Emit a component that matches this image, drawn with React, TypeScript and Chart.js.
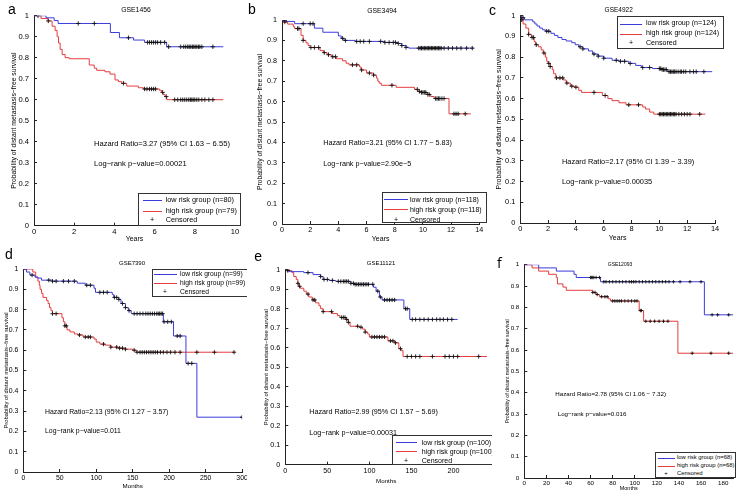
import React, { useEffect, useRef } from "react";
import { Chart, registerables } from "chart.js";
Chart.register(...registerables);

const FONT = "'Liberation Sans', Arial, Helvetica, sans-serif";
Chart.defaults.font.family = FONT;
const BLUE = "#3c3cdc";
const RED = "#e63c3c";

// ---------- Panel a (GSE1456), years ----------
const aLowT = [0, 0.6, 1.0, 1.2, 3.8, 4.25, 4.95, 5.5, 6.6, 9.42];
const aLowS = [1, 0.99, 0.977, 0.963, 0.92, 0.895, 0.884, 0.873, 0.852, 0.852];
const aLowC = [0.2, 2.2, 3.0, 4.7, 5.65, 5.75, 5.85, 5.95, 6.05, 6.15, 6.3, 6.5, 6.7, 7.3, 7.45, 7.55, 7.65, 7.72, 7.8, 7.88, 7.95, 8.02, 8.1, 8.18, 8.25, 8.35, 8.9];
const aHighT = [0, 0.35, 0.7, 0.9, 1.05, 1.15, 1.22, 1.3, 1.4, 1.55, 1.75, 2.75, 3.0, 3.12, 3.53, 3.78, 4.03, 4.2, 4.36, 4.61, 5.19, 5.44, 6.24, 6.35, 6.43, 6.52, 6.6, 9.42];
const aHighS = [1, 0.987, 0.975, 0.95, 0.93, 0.9, 0.87, 0.84, 0.815, 0.8, 0.795, 0.765, 0.75, 0.74, 0.733, 0.722, 0.694, 0.686, 0.678, 0.665, 0.657, 0.651, 0.645, 0.635, 0.625, 0.615, 0.6, 0.6];
const aHighC = [0.71, 4.45, 5.5, 5.62, 5.75, 5.85, 5.95, 6.05, 6.4, 6.58, 7.0, 7.15, 7.3, 7.4, 7.5, 7.6, 7.7, 7.78, 7.85, 7.92, 8.0, 8.1, 8.2, 8.35, 8.5, 8.7, 8.9];

// ---------- Panel b (GSE3494), years ----------
const bLowT = [0, 0.3, 0.9, 2.3, 2.9, 4.0, 4.2, 4.4, 5.2, 7.3, 8.2, 8.5, 8.8, 9.0, 13.6];
const bLowS = [1, 0.993, 0.982, 0.96, 0.94, 0.922, 0.91, 0.9, 0.895, 0.89, 0.885, 0.875, 0.866, 0.862, 0.862];
const bLowC = [0.2, 1.5, 2.0, 2.2, 4.3, 4.5, 5.3, 5.55, 5.8, 6.2, 7.0, 7.3, 7.6, 7.9, 8.05, 8.25, 8.5, 8.8, 9.7, 9.8, 9.9, 10.0, 10.1, 10.2, 10.3, 10.4, 10.5, 10.6, 10.7, 10.8, 10.9, 11.0, 11.1, 11.2, 11.3, 11.5, 11.8, 12.1, 12.4, 12.7, 13.1, 13.5];
const bHighT = [0, 0.1, 0.4, 0.8, 0.9, 1.35, 1.5, 1.7, 1.85, 2.0, 2.7, 2.95, 3.2, 3.5, 3.85, 4.3, 4.55, 4.75, 5.5, 5.6, 6.0, 6.5, 6.7, 6.8, 6.9, 7.05, 8.1, 9.4, 9.65, 9.9, 10.3, 10.55, 10.8, 11.85, 13.4];
const bHighS = [1, 0.99, 0.98, 0.967, 0.958, 0.925, 0.9, 0.888, 0.875, 0.865, 0.85, 0.84, 0.83, 0.82, 0.81, 0.8, 0.788, 0.78, 0.77, 0.755, 0.74, 0.73, 0.715, 0.7, 0.69, 0.68, 0.67, 0.66, 0.65, 0.645, 0.635, 0.625, 0.615, 0.54, 0.54];
const bHighC = [0.2, 1.1, 1.2, 1.5, 2.05, 2.3, 2.6, 3.0, 3.3, 3.6, 3.8, 5.0, 5.3, 5.65, 6.2, 6.5, 7.8, 9.6, 9.75, 9.9, 10.0, 10.1, 10.2, 10.35, 10.45, 10.9, 11.0, 11.1, 11.2, 11.35, 11.5, 12.2, 12.35, 12.5, 13.0];

// ---------- Panel c (GSE4922), years ----------
const cLowT = [0, 0.1, 0.3, 0.9, 1.05, 1.2, 1.4, 1.6, 1.8, 2.2, 2.45, 2.7, 3.0, 3.3, 3.7, 3.95, 4.2, 4.5, 4.9, 5.2, 5.6, 6.0, 6.6, 7.1, 7.8, 8.3, 8.7, 9.5, 10.2, 10.6, 13.8];
const cLowS = [1, 0.99, 0.98, 0.97, 0.96, 0.95, 0.94, 0.932, 0.925, 0.915, 0.905, 0.895, 0.885, 0.878, 0.87, 0.86, 0.85, 0.84, 0.83, 0.815, 0.805, 0.795, 0.785, 0.78, 0.77, 0.76, 0.75, 0.745, 0.74, 0.73, 0.73];
const cLowC = [0.2, 1.9, 2.05, 4.3, 4.5, 5.3, 5.6, 6.0, 6.9, 7.2, 7.5, 7.9, 8.8, 9.3, 10.0, 10.1, 10.2, 10.3, 10.4, 10.5, 10.7, 10.8, 10.9, 11.0, 11.1, 11.2, 11.35, 11.5, 11.6, 11.75, 11.9, 12.2, 12.45, 12.65, 13.2];
const cHighT = [0, 0.1, 0.2, 0.4, 0.6, 0.8, 1.0, 1.1, 1.3, 1.5, 1.65, 1.8, 1.9, 2.0, 2.15, 2.3, 2.4, 2.55, 3.1, 3.3, 3.6, 3.9, 4.2, 4.4, 5.9, 6.3, 6.6, 7.1, 7.6, 8.8, 9.0, 9.3, 9.6, 13.3];
const cHighS = [1, 0.98, 0.96, 0.94, 0.91, 0.895, 0.875, 0.86, 0.85, 0.835, 0.82, 0.8, 0.78, 0.77, 0.755, 0.74, 0.72, 0.7, 0.69, 0.675, 0.66, 0.655, 0.64, 0.63, 0.615, 0.6, 0.59, 0.58, 0.57, 0.56, 0.55, 0.535, 0.525, 0.525];
const cHighC = [0.1, 0.6, 0.85, 0.95, 1.15, 1.7, 2.05, 2.15, 2.6, 2.85, 3.05, 3.35, 3.7, 4.0, 5.3, 6.1, 7.8, 8.5, 10.0, 10.1, 10.2, 10.3, 10.4, 10.5, 10.6, 10.7, 10.8, 10.9, 11.0, 11.1, 11.2, 11.4, 11.6, 11.8, 12.0, 12.2, 12.9];

// ---------- Panel d (GSE7390), months ----------
const dLowT = [0, 4.5, 9, 16, 20, 25, 40, 74, 85, 97, 99, 122, 124, 131, 134, 140, 144, 148, 192, 206, 223, 238, 300];
const dLowS = [1, 0.985, 0.97, 0.96, 0.955, 0.945, 0.94, 0.93, 0.92, 0.905, 0.885, 0.875, 0.86, 0.85, 0.83, 0.81, 0.795, 0.78, 0.74, 0.67, 0.535, 0.27, 0.27];
const dLowC = [12, 35, 40, 45, 55, 62, 70, 87, 92, 105, 110, 115, 125, 128, 131, 136, 140, 145, 152, 156, 160, 164, 168, 171, 174, 177, 180, 183, 185, 187, 189, 191, 193, 198, 203, 211, 215, 226, 231, 300];
const dHighT = [0, 13, 17, 20, 22, 23, 25, 27, 32, 34, 36, 38, 40, 53, 55, 57, 60, 64, 70, 75, 82, 97, 100, 105, 112, 120, 130, 140, 150, 155, 289];
const dHighS = [1, 0.985, 0.96, 0.94, 0.92, 0.9, 0.88, 0.86, 0.845, 0.83, 0.81, 0.795, 0.78, 0.76, 0.74, 0.72, 0.7, 0.69, 0.68, 0.675, 0.665, 0.655, 0.64, 0.63, 0.625, 0.615, 0.61, 0.605, 0.6, 0.59, 0.59];
const dHighC = [40, 45, 57, 59, 77, 85, 89, 92, 110, 120, 128, 132, 136, 140, 152, 156, 160, 163, 166, 169, 172, 175, 178, 181, 184, 188, 192, 197, 202, 208, 215, 238, 262, 289];

// ---------- Panel e (GSE11121), months ----------
const eLowT = [0, 5, 22, 33, 42, 45, 52, 60, 78, 82, 105, 108, 112, 115, 141, 148, 205];
const eLowS = [1, 0.99, 0.985, 0.975, 0.965, 0.95, 0.945, 0.94, 0.93, 0.925, 0.91, 0.89, 0.86, 0.845, 0.8, 0.745, 0.745];
const eLowC = [3, 27, 42, 46, 50, 56, 63, 66, 69, 71, 73, 75, 78, 81, 83, 85, 87, 89, 91, 93, 95, 97, 99, 104, 110, 113, 118, 121, 124, 127, 130, 143, 145, 151, 155, 160, 165, 170, 175, 180, 184, 188, 193, 198];
const eHighT = [0, 3, 8, 10, 13, 15, 16, 18, 22, 25, 28, 32, 36, 40, 42, 45, 56, 62, 65, 72, 75, 77, 88, 92, 95, 98, 100, 122, 130, 135, 138, 140, 240];
const eHighS = [1, 0.995, 0.985, 0.965, 0.95, 0.93, 0.915, 0.905, 0.89, 0.875, 0.86, 0.845, 0.83, 0.815, 0.8, 0.785, 0.775, 0.765, 0.755, 0.745, 0.73, 0.71, 0.705, 0.695, 0.68, 0.67, 0.655, 0.635, 0.625, 0.595, 0.585, 0.555, 0.555];
const eHighC = [3, 15, 17, 27, 33, 35, 45, 55, 67, 69, 71, 73, 75, 86, 90, 95, 103, 106, 109, 112, 115, 118, 125, 128, 131, 137, 145, 150, 155, 160, 175, 190, 195, 200, 205, 230];

// ---------- Panel f (GSE12093), months ----------
const fLowT = [0, 13, 29, 45, 47, 69, 163, 189];
const fLowS = [1, 0.985, 0.97, 0.955, 0.94, 0.92, 0.765, 0.765];
const fLowC = [60, 61, 62, 63, 65, 68, 72, 74, 77, 80, 83, 86, 89, 92, 95, 97, 99, 101, 104, 107, 110, 113, 116, 119, 122, 125, 128, 131, 135, 141, 150, 160, 170, 175, 185];
const fHighT = [0, 7, 13, 22, 29, 30, 35, 38, 62, 65, 68, 76, 78, 104, 108, 139, 189];
const fHighS = [1, 0.985, 0.97, 0.955, 0.94, 0.91, 0.895, 0.88, 0.87, 0.86, 0.85, 0.84, 0.83, 0.785, 0.735, 0.585, 0.585];
const fHighC = [62, 64, 66, 70, 73, 75, 80, 82, 84, 86, 88, 91, 94, 97, 100, 102, 105, 106, 110, 114, 118, 122, 126, 130, 152, 169, 185];

const TITLES = ["GSE1456", "GSE3494", "GSE4922", "GSE7390", "GSE11121", "GSE12093"];
const LETTERS = ["a", "b", "c", "d", "e", "f"];
const HR_TEXT = [
  "Hazard Ratio=3.27 (95% CI 1.63 \u2212 6.55)",
  "Hazard Ratio=3.21 (95% CI 1.77 \u2212 5.83)",
  "Hazard Ratio=2.17 (95% CI 1.39 \u2212 3.39)",
  "Hazard Ratio=2.13 (95% CI 1.27 \u2212 3.57)",
  "Hazard Ratio=2.99 (95% CI 1.57 \u2212 5.69)",
  "Hazard Ratio=2.78 (95% CI 1.06 \u2212 7.32)",
];
const P_TEXT = [
  "Log\u2212rank p\u2212value=0.00021",
  "Log\u2212rank p\u2212value=2.90e\u22125",
  "Log\u2212rank p\u2212value=0.00035",
  "Log\u2212rank p\u2212value=0.011",
  "Log\u2212rank p\u2212value=0.00031",
  "Log\u2212rank p\u2212value=0.016",
];
const N_LOW = [80, 118, 124, 99, 100, 68];
const N_HIGH = [79, 118, 124, 99, 100, 68];
const X_LABELS = ["Years", "Years", "Years", "Months", "Months", "Months"];
const Y_LABEL = "Probability of distant metastasis\u2212free survival";

function stepAt(T: number[], S: number[], t: number) {
  let v = S[0];
  for (let i = 0; i < T.length; i++) if (T[i] <= t) v = S[i];
  return v;
}

type Layout = {
  box: { x: number; y: number; w: number; h: number };
  plot: { L: number; T: number; R: number; B: number };
  xMax: number; xStep: number;
  fs: number; lfs: number; yfs: number; xfs: number; tfs: number;
  yTitleX: number; xTitleY: number;
  title: { x: number; y: number };
  letter: { x: number; y: number; size: number; family?: string };
  hr: { x: number; y: number }; pv: { x: number; y: number };
  legend: { x: number; y: number; w: number; h: number; rows: number[]; l1: number; l2: number; tx: number; px: number };
  cross: number;
};

const DATA = [
  { lowT: aLowT, lowS: aLowS, lowC: aLowC, highT: aHighT, highS: aHighS, highC: aHighC },
  { lowT: bLowT, lowS: bLowS, lowC: bLowC, highT: bHighT, highS: bHighS, highC: bHighC },
  { lowT: cLowT, lowS: cLowS, lowC: cLowC, highT: cHighT, highS: cHighS, highC: cHighC },
  { lowT: dLowT, lowS: dLowS, lowC: dLowC, highT: dHighT, highS: dHighS, highC: dHighC },
  { lowT: eLowT, lowS: eLowS, lowC: eLowC, highT: eHighT, highS: eHighS, highC: eHighC },
  { lowT: fLowT, lowS: fLowS, lowC: fLowC, highT: fHighT, highS: fHighS, highC: fHighC },
];

const LAYOUTS: Layout[] = [
  {
    box: { x: 0, y: 0, w: 246, h: 248 }, plot: { L: 34, T: 15.7, R: 235, B: 225.7 },
    xMax: 10, xStep: 2, fs: 7.6, lfs: 7.3, yfs: 6.8, xfs: 7, tfs: 6.8, yTitleX: 14, xTitleY: 239.3,
    title: { x: 136, y: 10 }, letter: { x: 8, y: 9, size: 14 },
    hr: { x: 94, y: 144 }, pv: { x: 94, y: 164 },
    legend: { x: 138, y: 193, w: 103, h: 33, rows: [200, 210.7, 220], l1: 142.7, l2: 161.7, tx: 165.7, px: 152 },
    cross: 2.2,
  },
  {
    box: { x: 246, y: 0, w: 246, h: 248 }, plot: { L: 282, T: 20, R: 479.3, B: 224 },
    xMax: 14, xStep: 2, fs: 7.2, lfs: 7, yfs: 6.8, xfs: 7, tfs: 6.8, yTitleX: 260, xTitleY: 239,
    title: { x: 382, y: 11 }, letter: { x: 248, y: 9, size: 14 },
    hr: { x: 323.3, y: 143.3 }, pv: { x: 323.3, y: 164 },
    legend: { x: 382, y: 192, w: 105, h: 31, rows: [199.3, 209.3, 219], l1: 384.3, l2: 407.7, tx: 410, px: 396 },
    cross: 2.2,
  },
  {
    box: { x: 492, y: 0, w: 246, h: 248 }, plot: { L: 520.3, T: 15.7, R: 715, B: 223 },
    xMax: 14, xStep: 2, fs: 7.4, lfs: 7.1, yfs: 7, xfs: 7, tfs: 6.5, yTitleX: 499.3, xTitleY: 238.3,
    title: { x: 618.7, y: 10 }, letter: { x: 489, y: 10, size: 14 },
    hr: { x: 562, y: 162 }, pv: { x: 562, y: 182.3 },
    legend: { x: 617, y: 15.7, w: 107, h: 33.6, rows: [24, 34.3, 44], l1: 619.7, l2: 642, tx: 646, px: 631 },
    cross: 2.2,
  },
  {
    box: { x: 0, y: 248, w: 247, h: 248 }, plot: { L: 23.3, T: 269, R: 245.3, B: 472 },
    xMax: 300, xStep: 50, fs: 6.9, lfs: 6.7, yfs: 5.8, xfs: 6.2, tfs: 6, yTitleX: 6.7, xTitleY: 486,
    title: { x: 132, y: 263 }, letter: { x: 5, y: 254, size: 14 },
    hr: { x: 45, y: 412 }, pv: { x: 45, y: 431.3 },
    legend: { x: 151.7, y: 269, w: 98, h: 28.3, rows: [273.5, 282.7, 292], l1: 154.3, l2: 176.7, tx: 180, px: 165 },
    cross: 2.1,
  },
  {
    box: { x: 246, y: 248, w: 246, h: 248 }, plot: { L: 285.3, T: 269.7, R: 491, B: 464.7 },
    xMax: 240, xStep: 50, fs: 7.2, lfs: 7, yfs: 5.8, xfs: 6.2, tfs: 6, yTitleX: 266.7, xTitleY: 481,
    title: { x: 381, y: 263 }, letter: { x: 254.3, y: 256, size: 14 },
    hr: { x: 309.3, y: 412 }, pv: { x: 309.3, y: 433 },
    legend: { x: 392, y: 435, w: 104, h: 29.7, rows: [441.7, 450.7, 460], l1: 396, l2: 416.7, tx: 421.7, px: 406 },
    cross: 2.1,
  },
  {
    box: { x: 492, y: 248, w: 246, h: 248 }, plot: { L: 524.3, T: 264.7, R: 737, B: 478 },
    xMax: 189, xStep: 20, fs: 6.2, lfs: 5.9, yfs: 5.2, xfs: 5.5, tfs: 5, yTitleX: 507.7, xTitleY: 488,
    title: { x: 620, y: 263.7 }, letter: { x: 497, y: 263, size: 14, family: "'Open Sans', 'Liberation Sans', sans-serif" },
    hr: { x: 555.3, y: 393.7 }, pv: { x: 557.7, y: 413.7 },
    legend: { x: 655.3, y: 452, w: 81, h: 26, rows: [458.3, 466.3, 473.5], l1: 658, l2: 674.7, tx: 677, px: 666 },
    cross: 1.7,
  },
];

function Panel({ idx }: { idx: number }) {
  const ref = useRef<HTMLCanvasElement | null>(null);
  const L = LAYOUTS[idx];
  const D = DATA[idx];
  useEffect(() => {
    if (!ref.current) return;
    const { box, plot } = L;
    const yW = plot.L - box.x;
    const padTop = plot.T - box.y;
    const padRight = box.x + box.w - plot.R;
    const xH = box.y + box.h - plot.B;
    const yTitlePad = L.yTitleX - box.x - (L.yfs * 1.2) / 2;
    const xTitlePad = box.y + box.h - L.xTitleY - (L.xfs * 1.2) / 2;
    const pts = (T: number[], S: number[]) => T.map((t, i) => ({ x: t, y: S[i] }));
    const cens = (T: number[], S: number[], C: number[]) => C.map((t) => ({ x: t, y: stepAt(T, S, t) }));
    const lineDs = (data: any, color: string) => ({
      data, borderColor: color, borderWidth: 1, stepped: "before" as const, pointRadius: 0, fill: false, order: 1,
    });
    const censDs = (data: any) => ({
      data, showLine: false, pointStyle: "cross" as const, pointRadius: L.cross, pointBorderColor: "#111",
      pointBorderWidth: 0.9, borderColor: "#111", order: 0,
    });
    const tickFont = { size: L.fs, family: FONT };
    const chart = new Chart(ref.current, {
      type: "line",
      data: {
        datasets: [
          lineDs(pts(D.lowT, D.lowS), BLUE),
          lineDs(pts(D.highT, D.highS), RED),
          censDs(cens(D.lowT, D.lowS, D.lowC)),
          censDs(cens(D.highT, D.highS, D.highC)),
        ] as any,
      },
      options: {
        animation: false,
        responsive: false,
        events: [],
        layout: { padding: { top: padTop, right: padRight, left: 0, bottom: 0 } },
        plugins: { legend: { display: false }, tooltip: { enabled: false } },
        scales: {
          x: {
            type: "linear", min: 0, max: L.xMax,
            ticks: { stepSize: L.xStep, includeBounds: false, font: tickFont, color: "#000", padding: 5, maxRotation: 0, autoSkip: false },
            grid: { drawOnChartArea: false, tickLength: -3, color: "#222" },
            border: { color: "#222", width: 1 },
            title: { display: true, text: X_LABELS[idx], color: "#000", font: { size: L.xfs, family: FONT }, padding: { top: 0, bottom: xTitlePad } },
            afterFit: (s: any) => { s.height = xH; s.paddingLeft = 0; s.paddingRight = 0; },
          },
          y: {
            type: "linear", min: 0, max: 1,
            ticks: {
              stepSize: 0.1, font: tickFont, color: "#000", padding: 8, autoSkip: false,
              callback: (v: any) => String(Math.round(Number(v) * 10) / 10),
            },
            grid: { drawOnChartArea: false, tickLength: -3, color: "#222" },
            border: { color: "#222", width: 1 },
            title: { display: true, text: Y_LABEL, color: "#000", font: { size: L.yfs, family: FONT }, padding: { top: yTitlePad, bottom: 0 } },
            afterFit: (s: any) => { s.width = yW; s.paddingTop = 0; s.paddingBottom = 0; },
          },
        },
      } as any,
    });
    return () => chart.destroy();
  }, []);

  const { box, legend } = L;
  const lx = (x: number) => x - box.x;
  const ly = (y: number) => y - box.y;
  const txt = (s: string, x: number, y: number, size: number, center = false) => (
    <div
      style={{
        position: "absolute", left: x, top: y, fontSize: size, lineHeight: 1, whiteSpace: "nowrap",
        transform: center ? "translate(-50%, -50%)" : "translateY(-50%)", color: "#000",
      }}
    >
      {s}
    </div>
  );
  const lg = legend;
  return (
    <div style={{ position: "absolute", left: box.x, top: box.y, width: box.w, height: box.h, overflow: "hidden" }}>
      <canvas ref={ref} width={box.w} height={box.h} style={{ position: "absolute", left: 0, top: 0, width: box.w, height: box.h }} />
      {txt(TITLES[idx], lx(L.title.x), ly(L.title.y), L.tfs, true)}
      {txt(HR_TEXT[idx], lx(L.hr.x), ly(L.hr.y), L.fs)}
      {txt(P_TEXT[idx], lx(L.pv.x), ly(L.pv.y), L.fs)}
      <div
        style={{
          position: "absolute", left: lx(lg.x), top: ly(lg.y), width: lg.w, height: lg.h,
          border: "1px solid #333", background: "#fff", boxSizing: "border-box",
        }}
      />
      <div style={{ position: "absolute", left: lx(lg.l1), top: ly(lg.rows[0]), width: lg.l2 - lg.l1, borderTop: `1px solid ${BLUE}` }} />
      <div style={{ position: "absolute", left: lx(lg.l1), top: ly(lg.rows[1]), width: lg.l2 - lg.l1, borderTop: `1px solid ${RED}` }} />
      {txt("+", lx(lg.px) - L.lfs * 0.29, ly(lg.rows[2]), L.lfs)}
      {txt(`low risk group (n=${N_LOW[idx]})`, lx(lg.tx), ly(lg.rows[0]), L.lfs)}
      {txt(`high risk group (n=${N_HIGH[idx]})`, lx(lg.tx), ly(lg.rows[1]), L.lfs)}
      {txt("Censored", lx(lg.tx), ly(lg.rows[2]), L.lfs)}
    </div>
  );
}

export default function App() {
  return (
    <div
      style={{
        position: "absolute", left: 0, top: 0, width: 738, height: 496, background: "#fff",
        overflow: "hidden", fontFamily: FONT,
      }}
    >
      {LAYOUTS.map((_, i) => <Panel key={i} idx={i} />)}
      {LAYOUTS.map((L, i) => (
        <div
          key={"l" + i}
          style={{
            position: "absolute", left: L.letter.x, top: L.letter.y, transform: "translateY(-50%)",
            fontSize: L.letter.size, lineHeight: 1, fontFamily: L.letter.family || FONT, color: "#000",
          }}
        >
          {LETTERS[i]}
        </div>
      ))}
    </div>
  );
}
